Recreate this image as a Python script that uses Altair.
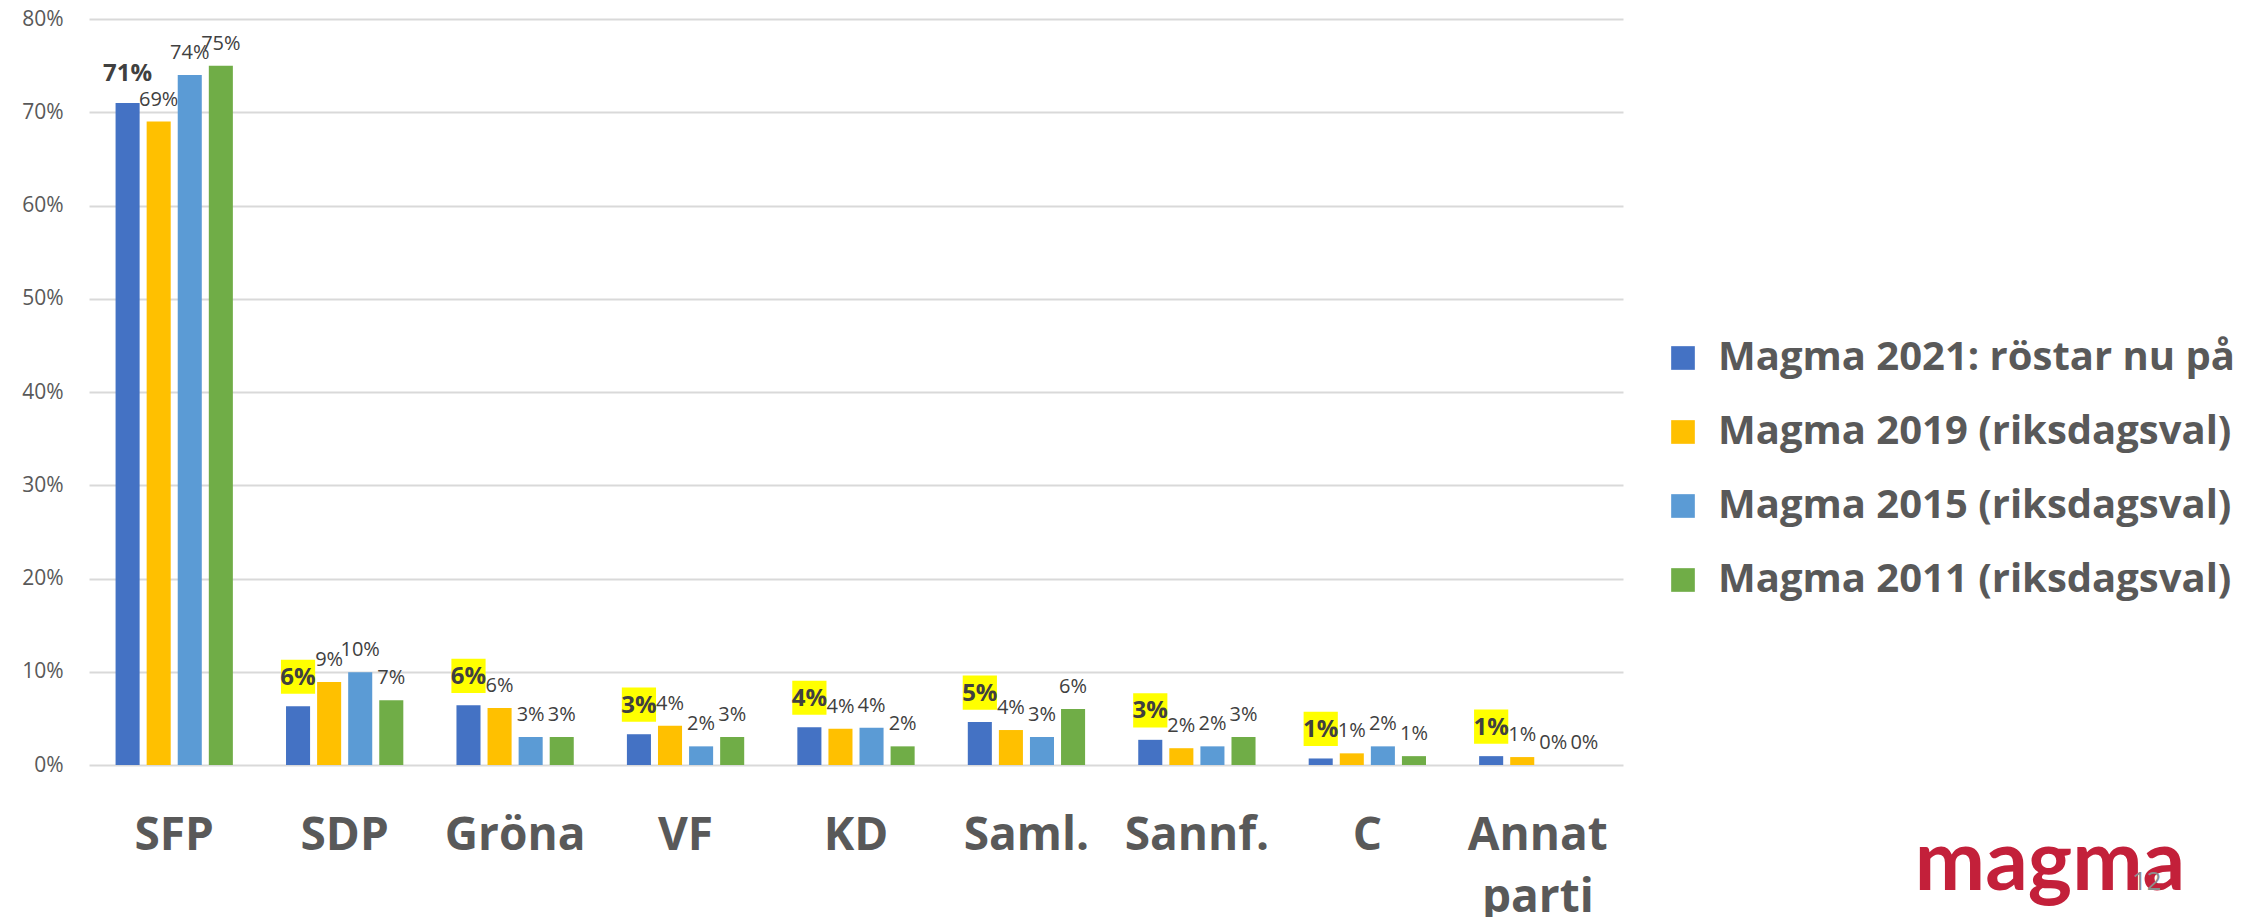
import altair as alt
import pandas as pd

categories = ["SFP", "SDP", "Gröna", "VF", "KD", "Saml.", "Sannf.", "C", "Annat parti"]
series = [
    "Magma 2021: röstar nu på",
    "Magma 2019 (riksdagsval)",
    "Magma 2015 (riksdagsval)",
    "Magma 2011 (riksdagsval)",
]
colors = ["#4472C4", "#FFC000", "#5B9BD5", "#70AD47"]

v2021 = [71.0, 6.3, 6.4, 3.3, 4.05, 4.6, 2.7, 0.7, 0.95]
v2019 = [69.0, 8.9, 6.1, 4.2, 3.9, 3.75, 1.8, 1.25, 0.85]
v2015 = [74.0, 9.95, 3.0, 2.0, 4.0, 3.0, 2.0, 2.0, 0.0]
v2011 = [75.0, 6.95, 3.0, 3.0, 2.0, 6.0, 3.0, 0.95, 0.0]

y_ticks = [0, 10, 20, 30, 40, 50, 60, 70, 80]
logo_text = ["magma"]
page_number = ["12"]

rows = []
for s, vals in zip(series, [v2021, v2019, v2015, v2011]):
    for c, v in zip(categories, vals):
        rows.append({
            "cat": c,
            "series": s,
            "value": v,
            "label": f"{int(v + 0.5)}%",
            "first": s == series[0],
            "hl": (s == series[0]) and (c != categories[0]),
        })
df = pd.DataFrame(rows)

FONT = "Open Sans"

x_enc = alt.X(
    "cat:N",
    sort=categories,
    scale=alt.Scale(paddingInner=0, paddingOuter=0),
    axis=alt.Axis(
        title=None, labelAngle=0, ticks=False, domain=False, grid=False,
        labelFont=FONT, labelFontWeight="bold", labelFontSize=46, labelColor="#595959",
        labelPadding=48, labelBaseline="top", labelLineHeight=62, labelOverlap=False,
        labelLimit=400, labelExpr="split(datum.label, ' ')",
    ),
)
xo_enc = alt.XOffset(
    "series:N", sort=series,
    scale=alt.Scale(paddingInner=0.226, paddingOuter=0.855),
)
y_enc = alt.Y(
    "value:Q",
    scale=alt.Scale(domain=[0, 80], nice=False),
    axis=alt.Axis(
        title=None, values=y_ticks, ticks=False, domain=False,
        gridColor="#d9d9d9", gridWidth=2,
        labelFont=FONT, labelFontSize=21, labelColor="#595959", labelPadding=26,
        labelExpr="datum.value + '%'",
    ),
)

base = alt.Chart(df)

bars = base.mark_bar().encode(
    x=x_enc, xOffset=xo_enc, y=y_enc,
    color=alt.Color(
        "series:N", sort=series,
        scale=alt.Scale(domain=series, range=colors),
        legend=alt.Legend(
            title=None, orient="none", legendX=1574, legendY=319,
            symbolType="square", symbolSize=560, symbolStrokeWidth=0,
            labelFont=FONT, labelFontSize=40, labelFontWeight="bold",
            labelColor="#595959", labelLimit=700, labelOffset=15,
            rowPadding=34, padding=0,
        ),
    ),
)

boxes = base.transform_filter("datum.hl").mark_point(
    shape="square", filled=True, color="#FFFF00", opacity=1, size=1170, yOffset=-29.5,
).encode(x=x_enc, xOffset=xo_enc, y=y_enc)

labels_reg = base.transform_filter("!datum.first").mark_text(
    font=FONT, fontSize=20, color="#404040", baseline="middle", dy=-22,
).encode(x=x_enc, xOffset=xo_enc, y=y_enc, text="label:N")

labels_bold = base.transform_filter("datum.first").mark_text(
    font=FONT, fontSize=24, fontWeight="bold", color="#404040", baseline="middle", dy=-28.5,
).encode(x=x_enc, xOffset=xo_enc, y=y_enc, text="label:N")

logo = alt.Chart(pd.DataFrame({"t": logo_text})).mark_text(
    font="Lato", fontSize=84, fontWeight="bold", color="#C3203A", baseline="alphabetic", align="center",
).encode(x=alt.value(1961), y=alt.value(871), text="t:N")

pnum = alt.Chart(pd.DataFrame({"t": page_number})).mark_text(
    font=FONT, fontSize=26, color="#8c8c8c", baseline="alphabetic", align="left",
).encode(x=alt.value(2043), y=alt.value(871), text="t:N")

chart = alt.layer(bars, boxes, labels_reg, labels_bold, logo, pnum).properties(
    width=1534, height=746,
    autosize=alt.AutoSizeParams(type="none"),
    padding={"left": 81, "top": 11, "right": 625, "bottom": 152},
).configure(background="white").configure_view(stroke=None)

chart.save("out.html", embed_options={"renderer": "svg", "actions": False})
